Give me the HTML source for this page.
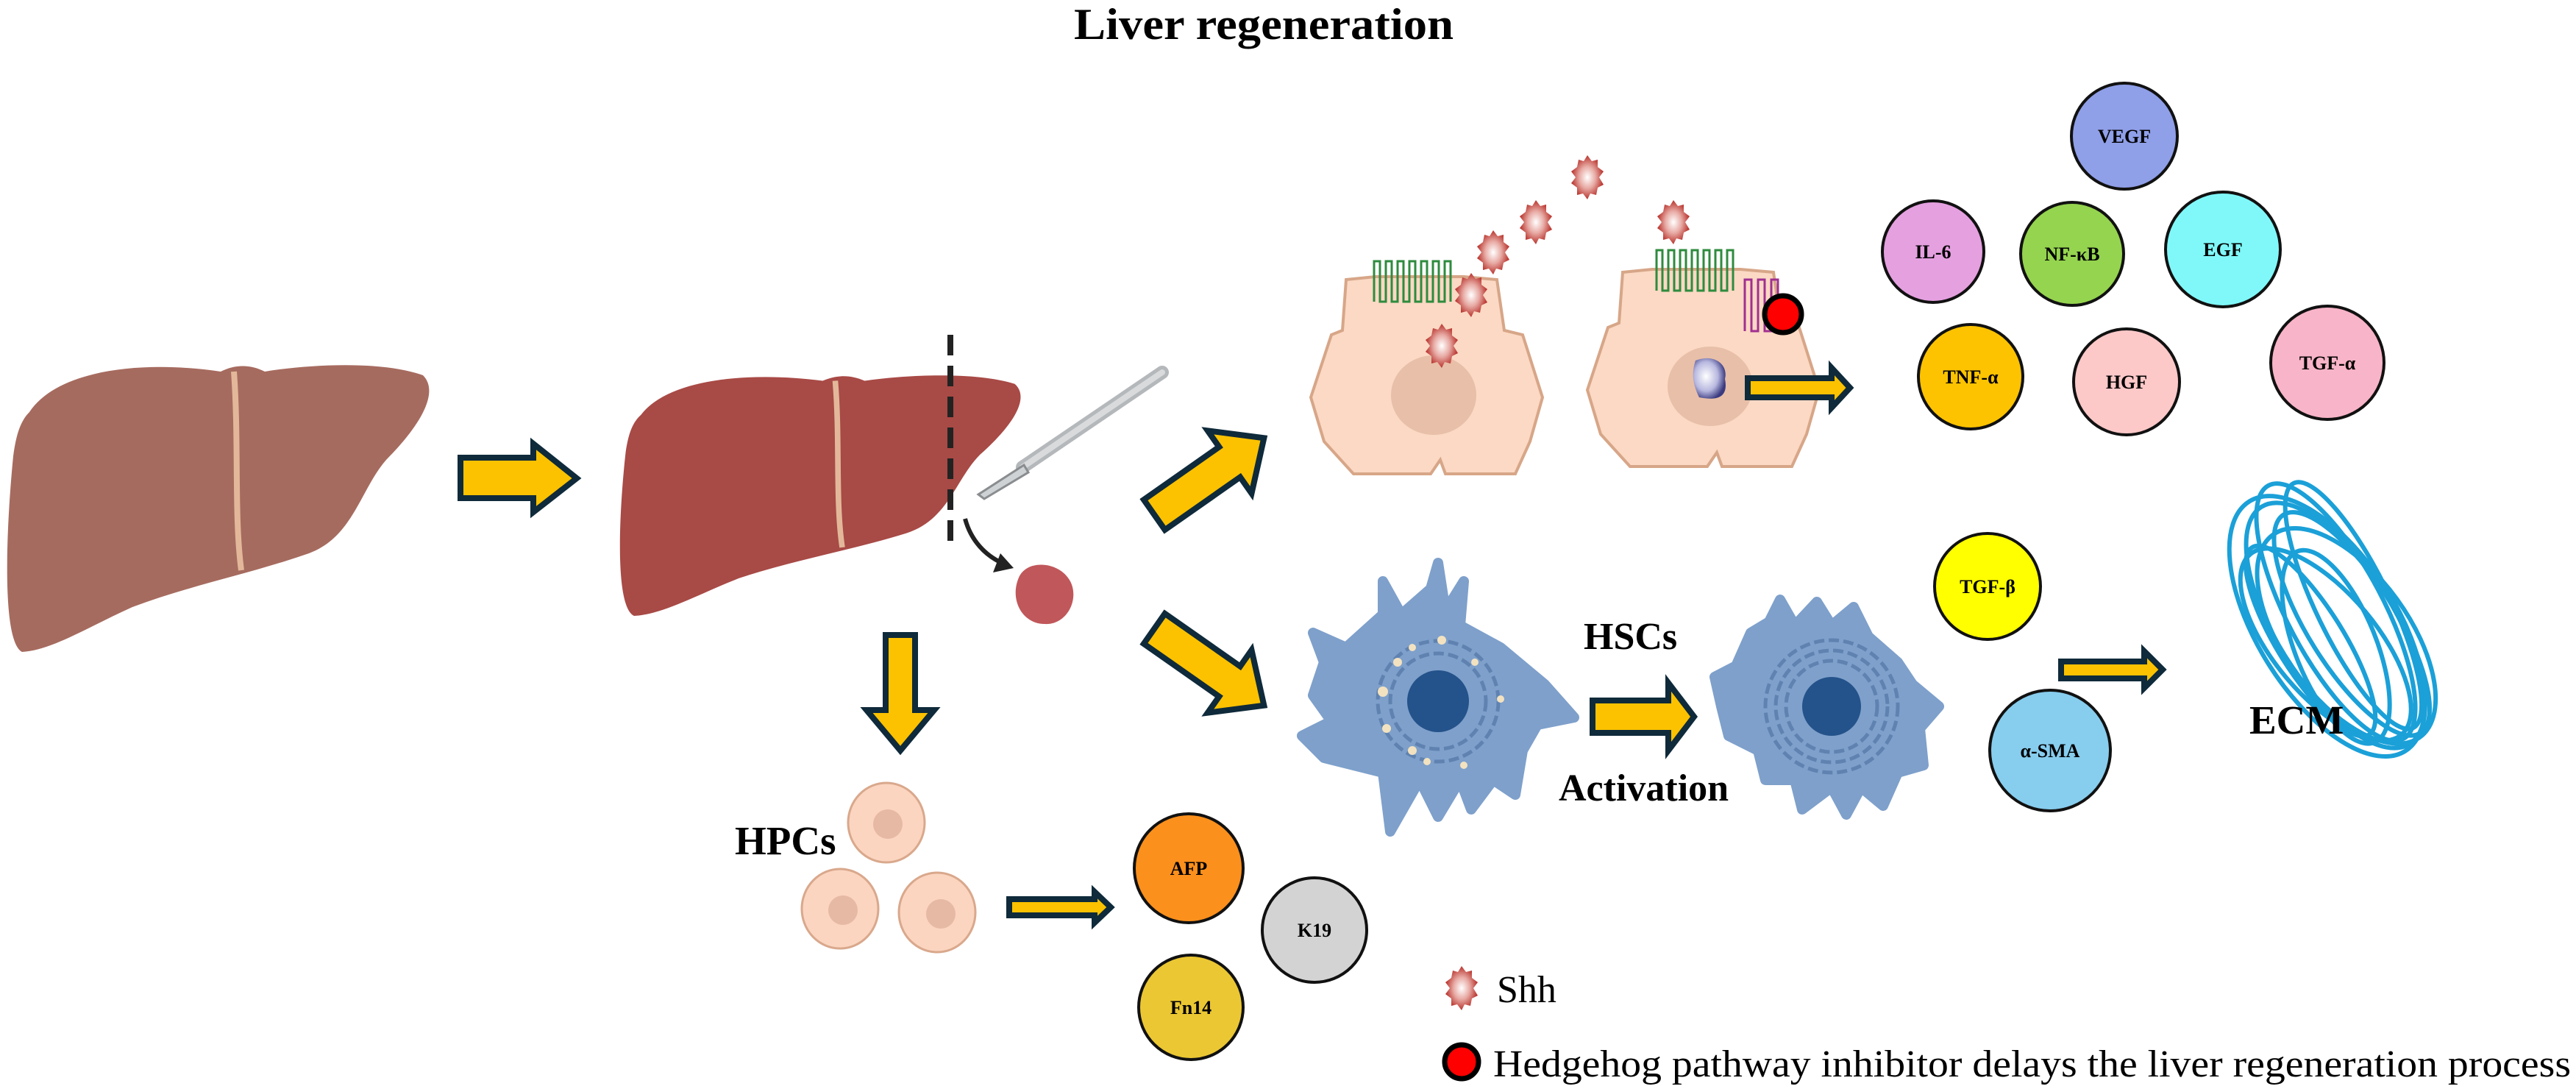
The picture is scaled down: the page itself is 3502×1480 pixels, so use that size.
<!DOCTYPE html>
<html><head><meta charset="utf-8"><style>html,body{margin:0;padding:0;background:#fff}svg{display:block}</style></head>
<body>
<svg width="3502" height="1480" viewBox="0 0 3502 1480" xmlns="http://www.w3.org/2000/svg" font-family="Liberation Serif, serif">
<defs>
<radialGradient id="shh" cx="50%" cy="50%" r="50%"><stop offset="0" stop-color="#fff"/><stop offset="0.5" stop-color="#e8aaa4"/><stop offset="1" stop-color="#b8322c"/></radialGradient>
<radialGradient id="prot" cx="40%" cy="45%" r="60%"><stop offset="0" stop-color="#fff"/><stop offset="0.6" stop-color="#b8b8e0"/><stop offset="1" stop-color="#3a3a80"/></radialGradient>
<g id="sh"><path d="M0,-30 L6,-22 L14,-24 L14,-14 L22,-8 L16,0 L22,10 L14,14 L12,24 L4,22 L0,30 L-6,22 L-14,24 L-14,14 L-22,8 L-16,0 L-22,-8 L-14,-14 L-12,-24 L-5,-22 Z" fill="url(#shh)"/></g>
<g id="liver">
<path d="M40,560 C80,500 200,490 300,505 C320,495 340,495 360,505 C420,495 520,490 575,510 C600,535 565,585 525,625 C490,665 480,730 420,752 C340,780 260,795 180,825 C120,852 70,884 30,886 C0,870 10,700 18,620 C22,590 28,572 40,560 Z"/>
<path d="M318,505 C325,600 318,700 328,775" stroke="#e3b89a" stroke-width="8" fill="none"/>
</g>
</defs>

<text x="1718" y="53" font-size="60" font-weight="bold" text-anchor="middle" textLength="516" lengthAdjust="spacingAndGlyphs">Liver regeneration</text>

<use href="#liver" fill="#a66b5f"/>
<g transform="translate(844,510) scale(0.9495,0.8385) translate(-11,-496)"><use href="#liver" fill="#a84a46"/></g>

<line x1="1292" y1="455" x2="1292" y2="744" stroke="#222" stroke-width="8" stroke-dasharray="28 14"/>
<line x1="1580" y1="506" x2="1390" y2="635" stroke="#b5b8bb" stroke-width="18" stroke-linecap="round"/>
<line x1="1580" y1="506" x2="1390" y2="635" stroke="#d8dadc" stroke-width="8" stroke-linecap="round"/>
<path d="M1392,632 L1330,672 L1338,678 L1398,642 Z" fill="#cfd2d4" stroke="#8a8d90" stroke-width="3"/>
<path d="M1312,705 C1320,735 1340,755 1362,765" stroke="#222" stroke-width="6" fill="none"/>
<path d="M1378,772 L1350,778 L1360,752 Z" fill="#222"/>
<path d="M1385,785 C1395,760 1440,762 1455,790 C1468,815 1450,850 1420,848 C1390,848 1372,815 1385,785 Z" fill="#c0575a"/>

<g fill="#fcc200" stroke="#0f2a3a" stroke-width="8" stroke-linejoin="miter">
<path d="M626,622 H725 V603 L784,650 L725,696 V677 H626 Z"/>
<path transform="translate(1643,648) rotate(-35)" d="M-90,-25 H35 V-52 L92,0 L35,52 V25 H-90 Z"/>
<path transform="translate(1643,906) rotate(35)" d="M-90,-25 H35 V-52 L92,0 L35,52 V25 H-90 Z"/>
<path d="M1204,863 H1244 V965 H1270 L1224,1020 L1178,965 H1204 Z"/>
<path d="M1372,1222 H1488 V1212 L1510,1233 L1488,1254 V1244 H1372 Z"/>
<path d="M2165,952 H2268 V928 L2303,974 L2268,1020 V996 H2165 Z"/>
<path d="M2802,899 H2915 V885 L2940,910 L2915,935 V922 H2802 Z"/>
</g>

<g fill="#fbd9c4" stroke="#d7a688" stroke-width="4">
<polygon points="1830,380 1870,376 1990,376 2035,380 2045,449 2070,455 2097,540 2080,600 2060,644 1965,644 1958,625 1945,644 1840,644 1800,600 1782,540 1810,455 1825,449"/>
<polygon transform="translate(376,-10)" points="1830,380 1870,376 1990,376 2035,380 2045,449 2070,455 2097,540 2080,600 2060,644 1965,644 1958,625 1945,644 1840,644 1800,600 1782,540 1810,455 1825,449"/>
</g>
<ellipse cx="1949" cy="537" rx="58" ry="54" fill="#e8bfa8"/>
<ellipse cx="2325" cy="525" rx="58" ry="54" fill="#e8bfa8"/>
<g fill="none" stroke="#2e8b3e" stroke-width="3">
<path d="M1868,410 V355 h8 V410 h8 V355 h8 V410 h8 V355 h8 V410 h8 V355 h8 V410 h8 V355 h8 V410 h8 V355 h8 V410 h8 V355 h8 V410"/>
<path d="M2252,395 V340 h8 V395 h8 V340 h8 V395 h8 V340 h8 V395 h8 V340 h8 V395 h8 V340 h8 V395 h8 V340 h8 V395 h8 V340 h8 V395"/>
</g>
<path d="M2372,450 V380 h9 V450 h9 V380 h9 V450 h9 V380 h9 V450" fill="none" stroke="#a03090" stroke-width="3"/>
<ellipse cx="2424" cy="427" rx="25" ry="25" fill="#f00" stroke="#000" stroke-width="7"/>
<path d="M2305,490 C2330,480 2350,495 2345,515 C2350,540 2335,545 2310,540 C2300,520 2300,505 2305,490 Z" fill="url(#prot)"/>
<path d="M2376,514 H2490 V500 L2515,527 L2490,554 V540 H2376 Z" fill="#fcc200" stroke="#0f2a3a" stroke-width="8"/>
<use href="#sh" x="2158" y="241"/>
<use href="#sh" x="2088" y="302"/>
<use href="#sh" x="2030" y="343"/>
<use href="#sh" x="2000" y="401"/>
<use href="#sh" x="1960" y="470"/>
<use href="#sh" x="2275" y="302"/>

<g stroke="#111" stroke-width="4">
<circle cx="2888" cy="185" r="72" fill="#8f9fe8"/>
<circle cx="2628" cy="342" r="69" fill="#e5a0e0"/>
<circle cx="2817" cy="345" r="70" fill="#95d44f"/>
<circle cx="3022" cy="339" r="78" fill="#80f8fa"/>
<circle cx="2679" cy="512" r="71" fill="#fec300"/>
<circle cx="2891" cy="519" r="72" fill="#fdc8c8"/>
<circle cx="3164" cy="493" r="77" fill="#f8b4c8"/>
<circle cx="2702" cy="797" r="72" fill="#ffff00"/>
<circle cx="2787" cy="1020" r="82" fill="#87cdee"/>
<circle cx="1616" cy="1180" r="74" fill="#fc901c"/>
<circle cx="1787" cy="1264" r="71" fill="#d3d3d3"/>
<circle cx="1619" cy="1369" r="71" fill="#ebc733"/>
</g>
<g font-size="26" font-weight="bold" text-anchor="middle">
<text x="2888" y="194">VEGF</text>
<text x="2628" y="351">IL-6</text>
<text x="2817" y="354">NF-κB</text>
<text x="3022" y="348">EGF</text>
<text x="2679" y="521">TNF-α</text>
<text x="2891" y="528">HGF</text>
<text x="3164" y="502">TGF-α</text>
<text x="2702" y="806">TGF-β</text>
<text x="2787" y="1029">α-SMA</text>
<text x="1616" y="1189">AFP</text>
<text x="1787" y="1273">K19</text>
<text x="1619" y="1378">Fn14</text>
</g>

<g fill="#fbd5c0" stroke="#d9a88c" stroke-width="3">
<ellipse cx="1205" cy="1118" rx="52" ry="54"/>
<ellipse cx="1142" cy="1235" rx="52" ry="54"/>
<ellipse cx="1274" cy="1240" rx="52" ry="54"/>
</g>
<g fill="#e6b9a4"><circle cx="1207" cy="1120" r="20"/><circle cx="1146" cy="1237" r="20"/><circle cx="1279" cy="1242" r="20"/></g>
<text x="999" y="1161" font-size="55" font-weight="bold">HPCs</text>

<path d="M1800,900 L1785,860 L1830,880 L1880,835 L1880,790 L1905,835 L1945,800 L1955,765 L1965,830 L1990,790 L1985,850 L2040,880 L2070,905 L2100,930 L2140,975 L2090,985 L2070,1020 L2060,1080 L2030,1060 L2000,1100 L1985,1060 L1955,1110 L1930,1060 L1890,1130 L1880,1050 L1840,1040 L1800,1030 L1770,1000 L1810,980 L1785,945 Z" fill="#7ea0cb" stroke="#7ea0cb" stroke-width="14" stroke-linejoin="round"/>
<path d="M2380,860 L2405,845 L2420,815 L2440,850 L2470,818 L2490,850 L2520,825 L2540,865 L2580,900 L2600,930 L2636,960 L2610,990 L2615,1040 L2580,1050 L2560,1095 L2530,1070 L2510,1107 L2490,1070 L2450,1100 L2440,1060 L2400,1060 L2390,1020 L2350,1000 L2340,960 L2331,920 L2360,905 Z" fill="#7ea0cb" stroke="#7ea0cb" stroke-width="14" stroke-linejoin="round"/>
<g fill="none" stroke="#5f82b0" stroke-width="5" stroke-dasharray="14 6">
<circle cx="1955" cy="953" r="65"/><circle cx="1955" cy="953" r="82"/>
<circle cx="2490" cy="960" r="62"/><circle cx="2490" cy="960" r="76"/><circle cx="2490" cy="960" r="90"/>
</g>
<circle cx="1955" cy="953" r="42" fill="#24528a"/>
<circle cx="2490" cy="960" r="40" fill="#24528a"/>
<g fill="#f3e2c0"><circle cx="1900" cy="900" r="6"/><circle cx="1920" cy="880" r="5"/><circle cx="1880" cy="940" r="7"/><circle cx="1885" cy="990" r="6"/><circle cx="1920" cy="1020" r="6"/><circle cx="1940" cy="1035" r="5"/><circle cx="2005" cy="900" r="5"/><circle cx="2040" cy="950" r="5"/><circle cx="1990" cy="1040" r="5"/><circle cx="1960" cy="870" r="6"/></g>
<text x="2153" y="882" font-size="52" font-weight="bold">HSCs</text>
<text x="2119" y="1088" font-size="52" font-weight="bold">Activation</text>

<g fill="none" stroke="#1ba0d8" stroke-width="6" transform="translate(3175,850) rotate(58)">
<ellipse rx="190" ry="80"/><ellipse rx="175" ry="60" transform="translate(10,-20)"/><ellipse rx="200" ry="95" transform="translate(-5,10)"/>
<ellipse rx="160" ry="70" transform="translate(15,25) rotate(-8)"/><ellipse rx="185" ry="50" transform="translate(-10,-35) rotate(6)"/>
<ellipse rx="170" ry="85" transform="translate(20,-5) rotate(-4)"/><ellipse rx="150" ry="45" transform="translate(0,40)"/>
<ellipse rx="195" ry="65" transform="translate(-15,-10) rotate(4)"/><ellipse rx="140" ry="55" transform="translate(25,15) rotate(10)"/>
</g>
<text x="3058" y="997" font-size="55" font-weight="bold">ECM</text>

<use href="#sh" x="1987" y="1343"/>
<text x="2035" y="1362" font-size="52">Shh</text>
<ellipse cx="1987" cy="1443" rx="23" ry="23" fill="#f00" stroke="#000" stroke-width="7"/>
<text x="2030" y="1463" font-size="52" textLength="1465" lengthAdjust="spacingAndGlyphs">Hedgehog pathway inhibitor delays the liver regeneration process</text>
</svg>
</body></html>
